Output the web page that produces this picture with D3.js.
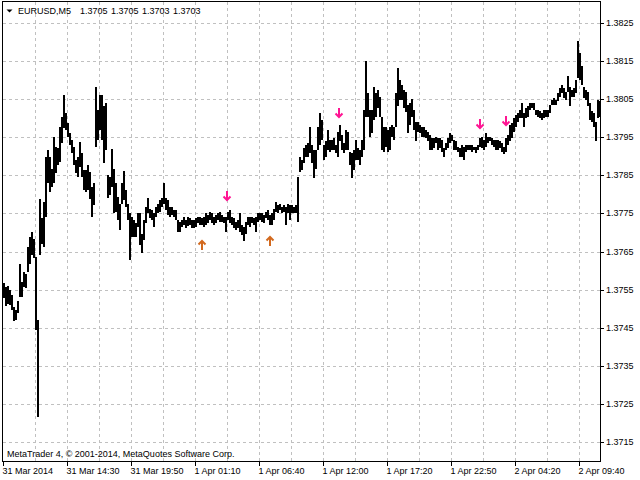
<!DOCTYPE html>
<html lang="en">
<head>
<meta charset="UTF-8">
<title>EURUSD,M5</title>
<style>
    body { margin: 0; background: #fff; }
    #chart { display: block; }
    #chart text { font-family: "Liberation Sans", Arial, sans-serif; font-size: 9px; fill: #000; }
</style>
</head>
<body>
<svg id="chart"></svg>
<script src="https://d3js.org/d3.v7.min.js"></script>
<script>
const symbol = "EURUSD,M5";
const headerValues = ["1.3705", "1.3705", "1.3703", "1.3703"];
const copyright = "MetaTrader 4, \u00a9 2001-2014, MetaQuotes Software Corp.";

const timeLabels = ["31 Mar 2014", "31 Mar 14:30", "31 Mar 19:50", "1 Apr 01:10", "1 Apr 06:40",
    "1 Apr 12:00", "1 Apr 17:20", "1 Apr 22:50", "2 Apr 04:20", "2 Apr 09:40"];
const timeTickBars = [0, 64, 128, 192, 256, 320, 384, 448, 512, 576];
const priceTicks = [1.3715, 1.3725, 1.3735, 1.3745, 1.3755, 1.3765, 1.3775, 1.3785, 1.3795, 1.3805, 1.3815, 1.3825];

// high / low of every pair of M5 bars
const barsPerBin = 2;
const highs = [
    1.37568,1.37557,1.37559,1.37548,1.37535,1.37504,1.37497,1.37520,1.37618,1.37570,
    1.37596,1.37592,1.37662,1.37689,1.37701,1.37684,1.37636,1.37469,1.37789,1.37737,
    1.37781,1.37899,1.37917,1.37899,1.37868,1.37952,1.37925,1.37921,1.37978,1.38004,
    1.38061,1.38013,1.37987,1.37960,1.37943,1.37925,1.37890,1.37899,1.37938,1.37908,
    1.37864,1.37864,1.37877,1.37860,1.37820,1.37829,1.38082,1.38022,
    1.38061,1.38061,1.38031,1.38039,1.37851,1.37846,1.37918,1.37868,1.37829,1.37794,
    1.37776,1.37829,1.37861,1.37811,1.37776,1.37750,1.37741,1.37732,1.37724,1.37750,
    1.37750,1.37697,1.37732,1.37768,1.37790,1.37763,1.37759,1.37750,1.37768,1.37776,
    1.37785,1.37790,1.37829,1.37790,1.37785,1.37768,1.37768,1.37759,1.37759,1.37732,
    1.37728,1.37732,1.37741,1.37732,1.37741,1.37737,1.37732,1.37732,1.37737,1.37741,
    1.37741,1.37737,1.37741,1.37750,1.37746,1.37754,1.37750,1.37741,1.37746,1.37750,
    1.37754,1.37746,1.37741,1.37741,1.37754,1.37759,1.37741,1.37737,1.37728,1.37732,
    1.37750,1.37719,1.37715,1.37728,1.37741,1.37741,1.37741,1.37737,1.37741,1.37750,
    1.37750,1.37750,1.37746,1.37754,1.37759,1.37746,1.37750,1.37763,1.37781,1.37772,
    1.37776,1.37768,1.37772,1.37768,1.37776,1.37772,1.37772,1.37768,1.37772,1.37846,
    1.37899,1.37890,1.37921,1.37930,1.37934,1.37978,1.37930,1.37917,1.37917,1.37978,
    1.38013,1.37996,1.37930,1.37939,1.37969,1.37943,1.37943,1.37947,1.37930,1.37965,
    1.37982,1.37956,1.37934,1.37969,1.37965,1.37912,1.37908,1.37917,1.37943,1.37921,
    1.37917,1.37943,1.38022,1.38149,1.38066,1.38022,1.38022,1.38083,1.38066,1.38074,
    1.38057,1.38004,1.37978,1.37978,1.37969,1.37978,1.37982,1.37978,1.38066,1.38131,
    1.38101,1.38088,1.38074,1.38070,1.38035,1.38039,1.38050,1.38022,1.37991,1.37991,
    1.37982,1.37978,1.37978,1.37969,1.37965,1.37956,1.37947,1.37947,1.37952,1.37947,
    1.37947,1.37943,1.37921,1.37934,1.37947,1.37960,1.37956,1.37943,1.37939,1.37925,
    1.37921,1.37930,1.37925,1.37930,1.37930,1.37930,1.37930,1.37925,1.37925,1.37930,
    1.37949,1.37952,1.37943,1.37960,1.37952,1.37950,1.37947,1.37943,1.37943,1.37943,
    1.37939,1.37934,1.37925,1.37947,1.37956,1.37982,1.37987,1.38000,1.38009,1.38013,
    1.38022,1.38039,1.38013,1.38026,1.38031,1.38039,1.38039,1.38039,1.38022,1.38022,
    1.38018,1.38013,1.38022,1.38022,1.38022,1.38035,1.38048,1.38053,1.38048,1.38066,
    1.38079,1.38088,1.38079,1.38070,1.38110,1.38083,1.38075,1.38079,1.38101,1.38202,
    1.38171,1.38136,1.38083,1.38075,1.38070,1.38039,1.38018,1.38013,1.37991,1.38048,
    1.38044
];
const lows = [
    1.37529,1.37506,1.37513,1.37509,1.37496,1.37468,1.37469,1.37489,1.37531,1.37531,
    1.37557,1.37555,1.37596,1.37618,1.37640,1.37632,1.37443,1.37215,1.37640,1.37671,
    1.37662,1.37741,1.37829,1.37807,1.37820,1.37829,1.37855,1.37877,1.37886,1.37934,
    1.37974,1.37969,1.37952,1.37930,1.37908,1.37877,1.37855,1.37846,1.37873,1.37846,
    1.37811,1.37807,1.37811,1.37789,1.37741,1.37772,1.37925,1.37943,
    1.37969,1.37943,1.37882,1.37917,1.37790,1.37798,1.37820,1.37750,1.37754,1.37732,
    1.37706,1.37776,1.37785,1.37768,1.37732,1.37627,1.37689,1.37689,1.37689,1.37715,
    1.37667,1.37647,1.37680,1.37724,1.37750,1.37737,1.37732,1.37715,1.37741,1.37750,
    1.37754,1.37768,1.37776,1.37759,1.37746,1.37741,1.37746,1.37741,1.37732,1.37702,
    1.37702,1.37715,1.37719,1.37711,1.37717,1.37719,1.37711,1.37711,1.37715,1.37724,
    1.37719,1.37719,1.37715,1.37719,1.37724,1.37732,1.37724,1.37719,1.37724,1.37732,
    1.37728,1.37728,1.37724,1.37702,1.37732,1.37724,1.37719,1.37711,1.37706,1.37711,
    1.37702,1.37693,1.37678,1.37697,1.37719,1.37715,1.37724,1.37719,1.37702,1.37728,
    1.37732,1.37728,1.37724,1.37737,1.37732,1.37719,1.37719,1.37732,1.37754,1.37750,
    1.37759,1.37750,1.37754,1.37719,1.37750,1.37732,1.37750,1.37750,1.37750,1.37728,
    1.37860,1.37864,1.37882,1.37899,1.37899,1.37908,1.37882,1.37842,1.37868,1.37917,
    1.37930,1.37943,1.37890,1.37899,1.37917,1.37912,1.37917,1.37917,1.37908,1.37899,
    1.37939,1.37917,1.37908,1.37917,1.37917,1.37877,1.37842,1.37864,1.37890,1.37890,
    1.37877,1.37899,1.37917,1.38004,1.38004,1.37952,1.37960,1.37996,1.38004,1.38026,
    1.38004,1.37917,1.37912,1.37925,1.37912,1.37917,1.37952,1.37943,1.37978,1.38031,
    1.38048,1.38048,1.38026,1.38017,1.37960,1.37982,1.38004,1.37969,1.37939,1.37965,
    1.37960,1.37952,1.37952,1.37947,1.37939,1.37917,1.37917,1.37921,1.37934,1.37917,
    1.37921,1.37912,1.37899,1.37917,1.37921,1.37934,1.37939,1.37917,1.37917,1.37912,
    1.37899,1.37899,1.37890,1.37912,1.37917,1.37917,1.37912,1.37917,1.37908,1.37917,
    1.37925,1.37921,1.37917,1.37925,1.37934,1.37939,1.37930,1.37925,1.37917,1.37917,
    1.37921,1.37912,1.37905,1.37912,1.37930,1.37939,1.37947,1.37965,1.37978,1.37991,
    1.38000,1.38000,1.37978,1.38000,1.38004,1.38022,1.38026,1.38022,1.38009,1.38004,
    1.38000,1.37996,1.38000,1.38004,1.38004,1.38013,1.38035,1.38035,1.38035,1.38044,
    1.38057,1.38066,1.38053,1.38048,1.38070,1.38031,1.38057,1.38057,1.38066,1.38105,
    1.38101,1.38088,1.38053,1.38048,1.38031,1.37996,1.37991,1.37978,1.37939,1.38000,
    1.38004
];

// signal arrows (bar index, price)
const upArrowBars = [199, 267];
const upArrowPrices = [1.37667, 1.37677];
const downArrowBars = [224, 336, 477, 503];
const downArrowPrices = [1.37796, 1.38015, 1.37984, 1.37993];

const width = 640;
const height = 480;
const plot = { left: 2, top: 1, right: 600, bottom: 461 };

const x = d3.scaleLinear().domain([0, 598]).range([3, 601]);
const y = d3.scaleLinear().domain([1.3715, 1.3825]).rangeRound([442, 23]);
const crisp = v => Math.round(v) + 0.5;

const svg = d3.select("#chart")
    .attr("width", width)
    .attr("height", height);

svg.append("rect")
    .attr("width", width)
    .attr("height", height)
    .attr("fill", "#fff");

// dashed grid
const grid = svg.append("g")
    .attr("stroke", "#c0c0c0")
    .attr("stroke-dasharray", "3,3");

grid.selectAll("line.v")
    .data(d3.range(32, 598, 32))
    .join("line")
    .attr("class", "v")
    .attr("x1", d => crisp(x(d)))
    .attr("x2", d => crisp(x(d)))
    .attr("y1", plot.top + 1)
    .attr("y2", plot.bottom);

grid.selectAll("line.h")
    .data(priceTicks)
    .join("line")
    .attr("class", "h")
    .attr("x1", plot.left + 1)
    .attr("x2", plot.right)
    .attr("y1", d => y(d) + 0.5)
    .attr("y2", d => y(d) + 0.5);

svg.append("clipPath")
    .attr("id", "plot-clip")
    .append("rect")
    .attr("x", plot.left + 1)
    .attr("y", plot.top + 1)
    .attr("width", plot.right - plot.left - 1)
    .attr("height", plot.bottom - plot.top - 1);

// bars
svg.append("g")
    .attr("clip-path", "url(#plot-clip)")
    .attr("shape-rendering", "crispEdges")
    .selectAll("rect")
    .data(highs)
    .join("rect")
    .attr("x", (d, i) => x(i * barsPerBin))
    .attr("width", x(barsPerBin) - x(0))
    .attr("y", d => y(d))
    .attr("height", (d, i) => Math.max(1, y(lows[i]) - y(d)))
    .attr("fill", "#000");

// arrows
const downPath = "M0,-5V4M-3.5,0.5L0,4L3.5,0.5";
const upPath = "M0,5V-4M-3.5,-0.5L0,-4L3.5,-0.5";

svg.append("g")
    .selectAll("path")
    .data(downArrowBars)
    .join("path")
    .attr("transform", (d, i) => `translate(${x(d)},${y(downArrowPrices[i])})`)
    .attr("d", downPath)
    .attr("fill", "none")
    .attr("stroke", "#ff1493")
    .attr("stroke-width", 2);

svg.append("g")
    .selectAll("path")
    .data(upArrowBars)
    .join("path")
    .attr("transform", (d, i) => `translate(${x(d)},${y(upArrowPrices[i])})`)
    .attr("d", upPath)
    .attr("fill", "none")
    .attr("stroke", "#d2691e")
    .attr("stroke-width", 2);

// frame
svg.append("rect")
    .attr("x", plot.left + 0.5)
    .attr("y", plot.top + 0.5)
    .attr("width", plot.right - plot.left)
    .attr("height", plot.bottom - plot.top)
    .attr("fill", "none")
    .attr("stroke", "#000");

// axes
const yAxis = d3.axisRight(y)
    .tickValues(priceTicks)
    .tickFormat(d3.format(".4f"))
    .tickSize(4)
    .tickPadding(2);

svg.append("g")
    .attr("transform", `translate(${plot.right},0)`)
    .call(yAxis)
    .call(g => g.select(".domain").remove());

const xAxis = d3.axisBottom(x)
    .tickValues(timeTickBars)
    .tickFormat((d, i) => timeLabels[i])
    .tickSize(5)
    .tickPadding(2);

svg.append("g")
    .attr("transform", `translate(0,${plot.bottom})`)
    .call(xAxis)
    .call(g => g.select(".domain").remove())
    .call(g => g.selectAll("text").attr("text-anchor", "start").attr("x", -1));

// header and footer
svg.append("path")
    .attr("d", "M6.5,9.5H12.5L9.5,12.5Z")
    .attr("fill", "#000");

svg.append("text")
    .attr("x", 18)
    .attr("y", 14)
    .text(symbol);

svg.selectAll("text.ohlc")
    .data(headerValues)
    .join("text")
    .attr("class", "ohlc")
    .attr("x", (d, i) => 80 + i * 31)
    .attr("y", 14)
    .text(d => d);

svg.append("text")
    .attr("x", 7)
    .attr("y", 457)
    .text(copyright);
</script>
</body>
</html>
